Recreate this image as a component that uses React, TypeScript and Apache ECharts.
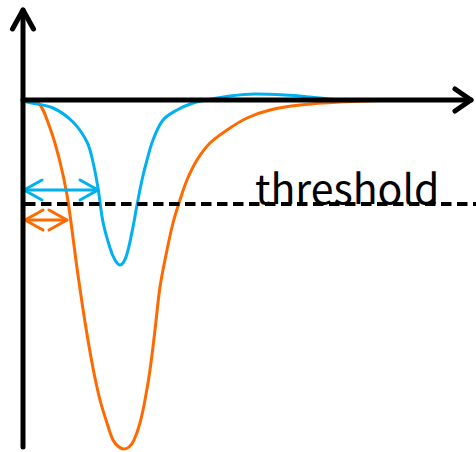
import React, { useEffect, useRef } from "react";
import * as echarts from "echarts";

// Signal traces: [time, amplitude] (arbitrary units, baseline = 0)
const blueTrace: [number, number][] = [
  [0, 0], [4, -2], [30, -8], [50, -22], [64, -42], [70, -62], [75, -88], [80, -122],
  [87, -148], [92, -160], [97, -165], [103, -157], [110, -127], [114, -105], [119, -80],
  [124, -60], [130, -40], [140, -20], [154, -10], [170, -3], [184, 0], [207, 4],
  [232, 6], [262, 5], [287, 3], [312, 0.5], [337, 0],
];
const orangeTrace: [number, number][] = [
  [0, 0], [14, -2], [27, -28], [37, -62], [44, -95], [49, -130], [54, -168], [62, -222],
  [70, -268], [77, -300], [84, -323], [90, -340], [96, -347], [101, -349], [106, -347],
  [111, -340], [117, -323], [122, -300], [127, -270], [132, -230], [137, -187],
  [144, -150], [150, -123], [156, -103], [164, -80], [174, -60], [187, -43], [204, -30],
  [224, -18], [247, -10], [277, -5], [317, -2], [377, 0],
];
const thresholdLevel = -104;
const thresholdRange: [number, number] = [2, 453];
const thresholdLabel = "threshold";
// time-over-threshold markers
const blueMarker = { y: -90, x0: 1, x1: 75 };
const orangeMarker = { y: -120, x0: 2, x1: 44 };
// axes extents
const xAxisEnd = 448;
const yAxisTop = 90;
const yAxisBottom = -347;

const BLUE = "#00B0F0";
const ORANGE = "#FF6A00";

function seg(name: string, data: [number, number][], color: string, width: number, extra: any = {}) {
  return {
    name,
    type: "line",
    data,
    symbol: "none",
    silent: true,
    clip: false,
    lineStyle: { color, width, cap: "round", join: "round", ...extra },
    z: 5,
  };
}

function doubleArrow(name: string, m: { y: number; x0: number; x1: number }, color: string, w: number) {
  const h = 10;
  const d = 18;
  return [
    seg(name + "-line", [[m.x0, m.y], [m.x1, m.y]], color, w),
    seg(name + "-l", [[m.x0 + d, m.y + h], [m.x0, m.y], [m.x0 + d, m.y - h]], color, w),
    seg(name + "-r", [[m.x1 - d, m.y + h], [m.x1, m.y], [m.x1 - d, m.y - h]], color, w),
  ];
}

export default function App() {
  const ref = useRef<HTMLDivElement>(null);
  useEffect(() => {
    if (!ref.current) return;
    const chart = echarts.init(ref.current, null, { renderer: "svg" });
    const series: any[] = [
      {
        name: "orange",
        type: "line",
        data: orangeTrace,
        smooth: 0.35,
        symbol: "none",
        silent: true,
        lineStyle: { color: ORANGE, width: 3 },
        z: 2,
      },
      {
        name: "blue",
        type: "line",
        data: blueTrace,
        smooth: 0.35,
        symbol: "none",
        silent: true,
        lineStyle: { color: BLUE, width: 3 },
        z: 3,
      },
      {
        name: "threshold",
        type: "line",
        data: [[thresholdRange[0], thresholdLevel], [thresholdRange[1], thresholdLevel]],
        symbol: "none",
        silent: true,
        clip: false,
        lineStyle: { color: "#000", width: 4, type: [10.5, 5.5] },
        z: 4,
      },
      ...doubleArrow("blueArrow", blueMarker, BLUE, 3),
      ...doubleArrow("orangeArrow", orangeMarker, ORANGE, 3),
      seg("xaxis", [[0, 0], [xAxisEnd, 0]], "#000", 5),
      seg("xarrow", [[xAxisEnd - 16, 11], [xAxisEnd, 0], [xAxisEnd - 16, -11]], "#000", 5),
      seg("yaxis", [[0, yAxisBottom], [0, yAxisTop]], "#000", 5),
      seg("yarrow", [[-10.5, yAxisTop - 19], [0, yAxisTop], [10.5, yAxisTop - 19]], "#000", 5),
    ];
    chart.setOption({
      animation: false,
      backgroundColor: "#fff",
      grid: { left: 0, right: 0, top: 0, bottom: 0, containLabel: false, outerBoundsMode: "none" },
      xAxis: { type: "value", min: -23, max: 453, show: false },
      yAxis: { type: "value", min: -352, max: 100, show: false },
      series,
      graphic: [
        {
          type: "text",
          left: 255,
          top: 165,
          silent: true,
          style: {
            text: thresholdLabel,
            fontSize: 41,
            fontFamily: "Noto Sans CJK JP",
            fill: "#000",
          },
          z: 10,
        },
      ],
    });
    return () => chart.dispose();
  }, []);
  return (
    <div
      ref={ref}
      style={{ position: "absolute", left: 0, top: 0, width: 476, height: 452 }}
    />
  );
}
